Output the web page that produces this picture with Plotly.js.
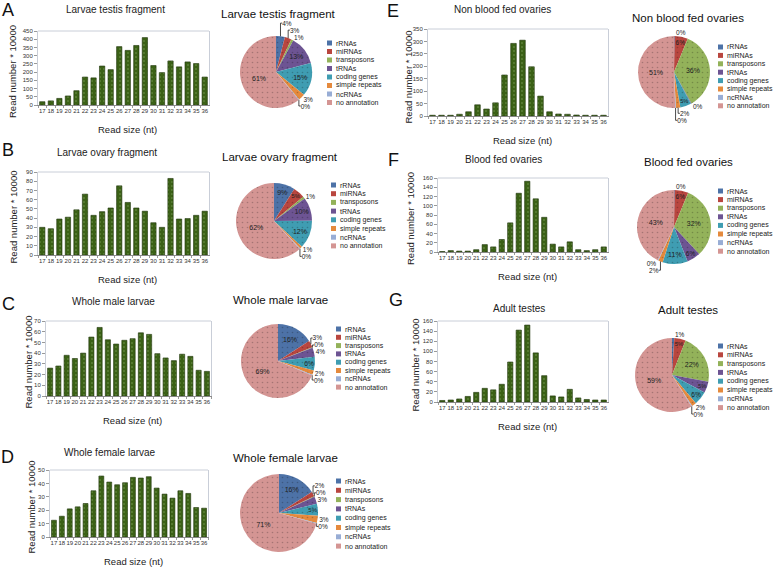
<!DOCTYPE html>
<html><head><meta charset="utf-8">
<script src="https://cdn.plot.ly/plotly-3.0.1.min.js"></script>
<style>html,body{margin:0;padding:0;background:#fff}#chart{width:777px;height:569px}</style>
</head><body><div id="chart"></div>
<script>
// ---------- data ----------
const readSizes = ['17','18','19','20','21','22','23','24','25','26','27','28','29','30','31','32','33','34','35','36'];
const larvaeTestisReads = [20, 25, 40, 55, 87, 170, 165, 237, 215, 355, 332, 362, 410, 240, 197, 268, 232, 262, 252, 170];
const larvaeOvaryReads  = [30, 28.5, 39, 41, 49, 66, 43, 47, 51, 75, 57, 51, 47.5, 35, 30, 83, 39, 39.5, 43, 47.5];
const maleLarvaeReads   = [26, 28, 38, 35, 40, 55, 64, 52.5, 48.5, 52, 53.5, 59, 57.5, 39.5, 35.5, 33, 39, 37, 24, 23];
const femaleLarvaeReads = [12.5, 15.5, 21, 22.5, 25, 34.5, 45.5, 41, 39, 40.5, 44.5, 44, 45, 36.5, 32, 29, 34.5, 32.5, 22, 21.5];
const nonBloodFedReads  = [3, 3, 3, 7, 17, 45, 28, 53, 165, 292, 305, 198, 80, 17, 8, 7, 4, 3, 3, 3];
const bloodFedReads     = [1, 3, 2, 2, 5, 16, 11, 27, 63, 127, 153, 115, 75, 17, 11, 22, 5, 3, 5, 11];
const adultTestesReads  = [3, 4, 6, 11, 19, 27, 24, 35, 79, 142, 152, 97, 52, 12, 10, 25, 8, 5, 4, 4];

const rnaClasses = ['rRNAs','miRNAs','transposons','tRNAs','coding genes','simple repeats','ncRNAs','no annotation'];
const pieLarvaeTestis  = [4, 3, 1, 13, 15, 3, 0.3, 61];
const pieLarvaeOvary   = [9, 5, 1, 10, 12, 1, 0.3, 62];
const pieMaleLarvae    = [16, 3, 0.3, 4, 6, 2, 0.3, 69];
const pieFemaleLarvae  = [16, 2, 0.3, 3, 5, 3, 0.3, 71];
const pieNonBloodFed   = [0.3, 6, 36, 0.3, 5, 2, 0.3, 51];
const pieBloodFed      = [0.3, 6, 32, 6, 11, 2, 0.3, 43];
const pieAdultTestes   = [1, 5, 22, 5, 6, 2, 0.3, 59];

// ---------- styling ----------
const classColors = ['#4d72a7','#b9463f','#93b25a','#6d5493','#3f9db2','#e58a3d','#98add5','#d49593'];
const FONT = 'Liberation Sans, Arial, DejaVu Sans, sans-serif';
const W = 777, H = 569;
const px = v => v / W, py = v => 1 - v / H;

const barPanels = [
  {letter:'A', title:'Larvae testis fragment', y:larvaeTestisReads, max:450, step:50, x0:38, x1:209, top:31,  zero:105, lx:8,   ly:10,  tx:115, ty:10,  ytx:13},
  {letter:'B', title:'Larvae ovary fragment',  y:larvaeOvaryReads,  max:90,  step:10, x0:38, x1:209, top:172, zero:255, lx:8,   ly:150, tx:107, ty:152, ytx:13},
  {letter:'C', title:'Whole male larvae',      y:maleLarvaeReads,   max:70,  step:10, x0:46, x1:211, top:321, zero:396, lx:8,   ly:304, tx:113, ty:301, ytx:28},
  {letter:'D', title:'Whole female larvae',    y:femaleLarvaeReads, max:50,  step:10, x0:50, x1:208, top:470, zero:537, lx:7,   ly:457, tx:110, ty:452, ytx:31},
  {letter:'E', title:'Non blood fed ovaries',  y:nonBloodFedReads,  max:350, step:50, x0:428,x1:608, top:29,  zero:116, lx:393, ly:11,  tx:502, ty:10,  ytx:408},
  {letter:'F', title:'Blood fed ovaries',      y:bloodFedReads,     max:160, step:20, x0:438,x1:608, top:178, zero:252, lx:393, ly:160, tx:503, ty:160, ytx:410},
  {letter:'G', title:'Adult testes',           y:adultTestesReads,  max:160, step:20, x0:438,x1:608, top:321, zero:402, lx:396, ly:300, tx:519, ty:308, ytx:415}
];

const piePanels = [
  {title:'Larvae testis fragment', v:pieLarvaeTestis, cx:276, cy:72,  r:36, tx:278, ty:14,  lx:327, ly:43,  ls:8.5},
  {title:'Larvae ovary fragment',  v:pieLarvaeOvary,  cx:274, cy:221, r:38, tx:280, ty:157, lx:331, ly:185, ls:8.7},
  {title:'Whole male larvae',      v:pieMaleLarvae,   cx:278, cy:361, r:37, tx:280, ty:300, lx:336, ly:329, ls:8.3},
  {title:'Whole female larvae',    v:pieFemaleLarvae, cx:279, cy:513, r:39, tx:285, ty:458, lx:336, ly:481, ls:9.3},
  {title:'Non blood fed ovaries',  v:pieNonBloodFed,  cx:674, cy:72,  r:36, tx:688, ty:18,  lx:718, ly:47,  ls:8.4},
  {title:'Blood fed ovaries',      v:pieBloodFed,     cx:674, cy:227, r:37, tx:688, ty:162, lx:718, ly:191, ls:8.6},
  {title:'Adult testes',           v:pieAdultTestes,  cx:672, cy:375, r:37, tx:688, ty:310, lx:718, ly:346, ls:8.8}
];

const traces = [];
const annotations = [];
const shapes = [];
const layout = {
  width: W, height: H, margin: {l:0, r:0, t:0, b:0},
  paper_bgcolor: '#fff', plot_bgcolor: '#fff',
  showlegend: false, bargap: 0.38,
  font: {family: FONT, color: '#222'}
};

barPanels.forEach((p, i) => {
  const n = i === 0 ? '' : String(i + 1);
  traces.push({
    type: 'bar', x: readSizes, y: p.y, xaxis: 'x' + n, yaxis: 'y' + n,
    marker: {color: '#3b6116', line: {color: '#1c3208', width: 0.6},
             pattern: {shape: '.', fillmode: 'overlay', size: 4, solidity: 0.12, fgcolor: '#a9c88a', fgopacity: 0.55}},
    hoverinfo: 'skip'
  });
  layout['xaxis' + n] = {
    domain: [px(p.x0), px(p.x1)], anchor: 'y' + n, type: 'category',
    tickfont: {size: 6, color: '#333'}, ticks: 'outside', ticklen: 2, tickcolor: '#999',
    tickson: 'boundaries', showgrid: false, showline: true, linecolor: '#8a8a8a', linewidth: 1,
    mirror: false, fixedrange: true, tickangle: 0
  };
  layout['yaxis' + n] = {
    domain: [py(p.zero), py(p.top)], anchor: 'x' + n, range: [0, p.max], dtick: p.step,
    tickfont: {size: 6, color: '#333'}, ticks: 'outside', ticklen: 3, tickcolor: '#999',
    showgrid: false, zeroline: false, showline: true, linecolor: '#c9ced8', mirror: true, fixedrange: true
  };
  shapes.push({type: 'line', xref: 'x' + n + ' domain', yref: 'y' + n + ' domain', x0: 0, x1: 1, y0: 1, y1: 1,
               line: {color: '#c9ced8', width: 1}});
  annotations.push({text: p.letter, x: px(p.lx), y: py(p.ly), xref: 'paper', yref: 'paper',
    xanchor: 'center', yanchor: 'middle', showarrow: false, font: {size: 18, color: '#111'}});
  annotations.push({text: p.title, x: px(p.tx), y: py(p.ty), xref: 'paper', yref: 'paper',
    xanchor: 'center', yanchor: 'middle', showarrow: false, font: {size: 10, color: '#222'}});
  annotations.push({text: 'Read number * 10000', x: px(p.ytx), y: py((p.top + p.zero) / 2 + 4), xref: 'paper', yref: 'paper',
    xanchor: 'center', yanchor: 'middle', textangle: -90, showarrow: false, font: {size: 9.5, color: '#222'}});
  annotations.push({text: 'Read size (nt)', x: px((p.x0 + p.x1) / 2 + 4), y: py(p.zero + 24), xref: 'paper', yref: 'paper',
    xanchor: 'center', yanchor: 'middle', showarrow: false, font: {size: 9.5, color: '#222'}});
});

piePanels.forEach(p => {
  const total = p.v.reduce((a, b) => a + b, 0);
  traces.push({
    type: 'pie', labels: rnaClasses, values: p.v, sort: false, direction: 'clockwise', rotation: 0,
    domain: {x: [px(p.cx - p.r), px(p.cx + p.r)], y: [py(p.cy + p.r), py(p.cy - p.r)]},
    marker: {colors: classColors, line: {width: 0},
             pattern: {shape: '.', fillmode: 'overlay', size: 5, solidity: 0.08, fgcolor: '#000', fgopacity: 0.22}},
    texttemplate: '%{percent:.0%}',
    textposition: p.v.map(v => (v / total >= 0.045 ? 'inside' : 'outside')),
    textfont: {size: 7, color: '#222'}, insidetextfont: {size: 7, color: '#222'},
    outsidetextfont: {size: 6.5, color: '#222'}, insidetextorientation: 'horizontal',
    hoverinfo: 'skip', showlegend: false
  });
  annotations.push({text: p.title, x: px(p.tx), y: py(p.ty), xref: 'paper', yref: 'paper',
    xanchor: 'center', yanchor: 'middle', showarrow: false, font: {size: 11.5, color: '#111'}});
  rnaClasses.forEach((c, k) => {
    const yc = p.ly + k * p.ls;
    shapes.push({type: 'rect', xref: 'paper', yref: 'paper',
      x0: px(p.lx), x1: px(p.lx + 5), y0: py(yc + 2.5), y1: py(yc - 2.5),
      fillcolor: classColors[k], line: {width: 0}});
    annotations.push({text: c, x: px(p.lx + 7), y: py(yc), xref: 'paper', yref: 'paper',
      xanchor: 'left', yanchor: 'middle', showarrow: false, font: {size: 7, color: '#222'}});
  });
});

layout.annotations = annotations;
layout.shapes = shapes;
Plotly.newPlot('chart', traces, layout, {displayModeBar: false, staticPlot: true});
</script>
</body></html>
